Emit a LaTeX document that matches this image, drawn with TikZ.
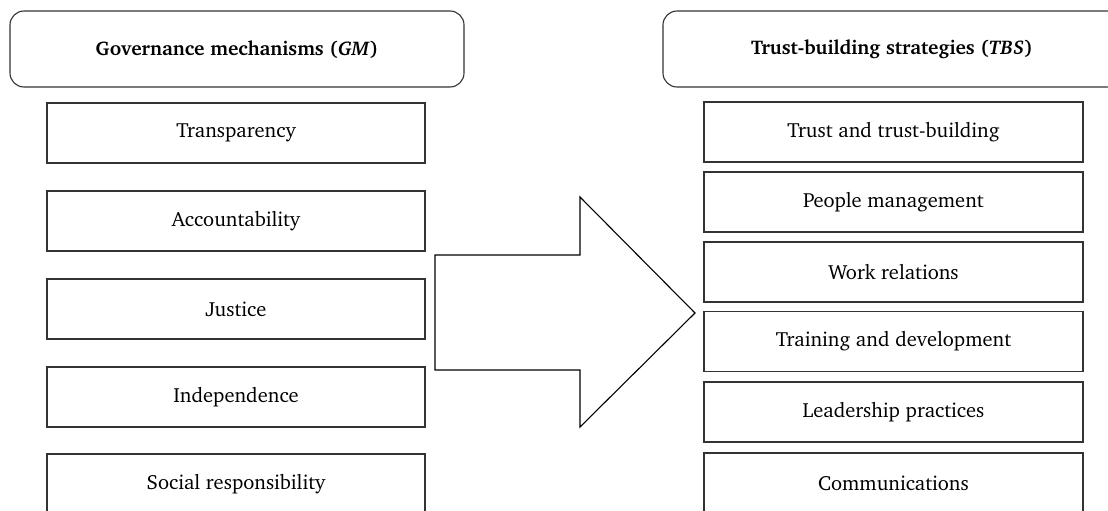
\documentclass[tikz,border=0pt]{standalone}
\usepackage[T1]{fontenc}
\usepackage{charter}
\tikzset{
  itembox/.style={draw=black!80, line width=1.1pt, minimum width=378pt, minimum height=60pt, inner sep=0pt, font=\fontsize{20.5}{24}\selectfont},
  headbox/.style={draw=black!80, line width=1.1pt, rounded corners=14pt, inner sep=0pt, font=\bfseries\fontsize{19.8}{24}\selectfont},
}
\begin{document}
\begin{tikzpicture}[x=1pt,y=-1pt]
\useasboundingbox (0,0) rectangle (1108,511);
% headers
\node[headbox, minimum width=454pt, minimum height=76pt] (gm) at (237,49) {Governance mechanisms (\textit{GM})};
\node[headbox, minimum width=458pt, minimum height=76pt] (tbs) at (892,49) {Trust-building strategies (\textit{TBS})};
% left column
\node[itembox] (l1) at (236,133) {Transparency};
\node[itembox] (l2) at (236,221) {Accountability};
\node[itembox] (l3) at (236,309) {Justice};
\node[itembox] (l4) at (236,397) {Independence};
\node[itembox] (l5) at (236,484) {Social responsibility};
% right column
\node[itembox, minimum width=379pt] (r1) at (893.5,132) {Trust and trust-building};
\node[itembox, minimum width=379pt] (r2) at (893.5,202) {People management};
\node[itembox, minimum width=379pt] (r3) at (893.5,272) {Work relations};
\node[itembox, minimum width=379pt] (r4) at (893.5,341.5) {Training and development};
\node[itembox, minimum width=379pt] (r5) at (893.5,412) {Leadership practices};
\node[itembox, minimum width=379pt] (r6) at (893.5,483) {Communications};
% big arrow
\draw[black, line width=1.1pt, line join=miter]
  (435,255) -- (580,255) -- (580,197) -- (695,313) -- (580,427) -- (580,370) -- (435,370) -- cycle;
\end{tikzpicture}
\end{document}
